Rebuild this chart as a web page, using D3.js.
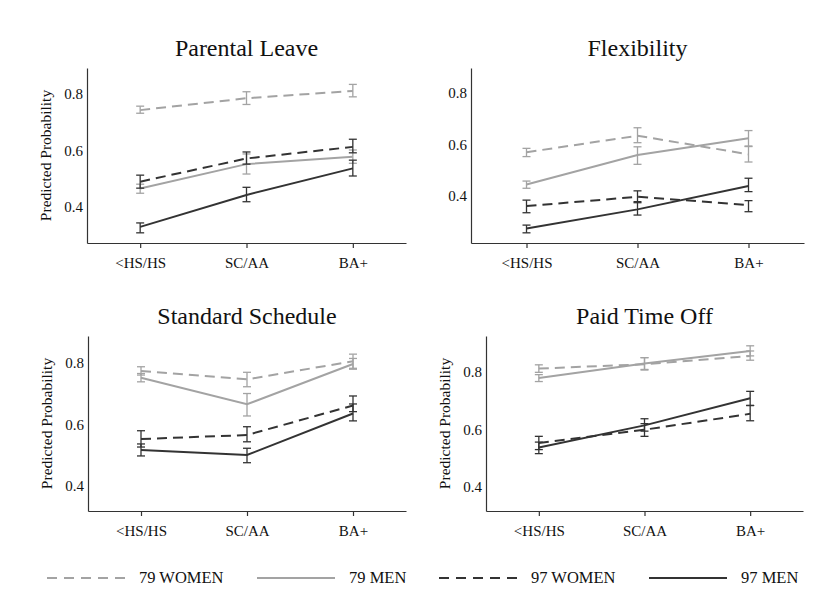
<!DOCTYPE html>
<html>
<head>
<meta charset="utf-8">
<script src="https://cdn.jsdelivr.net/npm/d3@7"></script>
<style>
  html, body { margin: 0; padding: 0; background: #fff; }
  svg { display: block; font-family: "Liberation Serif", "Times New Roman", serif; }
</style>
</head>
<body>
<svg id="chart" width="817" height="602"></svg>
<script>
// Education categories and the four cohort/sex series
const categories = ["<HS/HS", "SC/AA", "BA+"];
const seriesNames = ["79 WOMEN", "79 MEN", "97 WOMEN", "97 MEN"];
const panelTitles = ["Parental Leave", "Flexibility", "Standard Schedule", "Paid Time Off"];
const yTicks = [0.4, 0.6, 0.8];

// Predicted probabilities (rows follow seriesNames, columns follow categories)
const parentalLeaveEst = [[0.743, 0.785, 0.811], [0.466, 0.552, 0.578], [0.490, 0.572, 0.613], [0.330, 0.443, 0.537]];
const parentalLeaveLo  = [[0.732, 0.763, 0.790], [0.449, 0.517, 0.555], [0.467, 0.552, 0.592], [0.309, 0.419, 0.510]];
const parentalLeaveHi  = [[0.757, 0.808, 0.834], [0.481, 0.588, 0.602], [0.513, 0.595, 0.640], [0.344, 0.470, 0.566]];

const flexibilityEst = [[0.570, 0.634, 0.562], [0.445, 0.559, 0.624], [0.361, 0.397, 0.365], [0.274, 0.348, 0.439]];
const flexibilityLo  = [[0.553, 0.607, 0.532], [0.430, 0.523, 0.592], [0.335, 0.374, 0.339], [0.257, 0.326, 0.417]];
const flexibilityHi  = [[0.585, 0.665, 0.594], [0.458, 0.591, 0.654], [0.384, 0.420, 0.382], [0.287, 0.378, 0.469]];

const standardScheduleEst = [[0.774, 0.747, 0.806], [0.752, 0.666, 0.797], [0.553, 0.566, 0.662], [0.517, 0.501, 0.636]];
const standardScheduleLo  = [[0.761, 0.723, 0.783], [0.739, 0.628, 0.780], [0.527, 0.544, 0.642], [0.498, 0.476, 0.612]];
const standardScheduleHi  = [[0.788, 0.770, 0.829], [0.766, 0.701, 0.815], [0.580, 0.593, 0.693], [0.537, 0.523, 0.667]];

const paidTimeOffEst = [[0.811, 0.826, 0.855], [0.778, 0.829, 0.872], [0.553, 0.599, 0.654], [0.537, 0.614, 0.708]];
const paidTimeOffLo  = [[0.798, 0.806, 0.840], [0.766, 0.808, 0.855], [0.530, 0.576, 0.630], [0.516, 0.594, 0.683]];
const paidTimeOffHi  = [[0.824, 0.849, 0.872], [0.790, 0.849, 0.890], [0.576, 0.620, 0.683], [0.556, 0.637, 0.732]];

const panelData = [
  { est: parentalLeaveEst, lo: parentalLeaveLo, hi: parentalLeaveHi },
  { est: flexibilityEst, lo: flexibilityLo, hi: flexibilityHi },
  { est: standardScheduleEst, lo: standardScheduleLo, hi: standardScheduleHi },
  { est: paidTimeOffEst, lo: paidTimeOffLo, hi: paidTimeOffHi }
];

// Panel geometry and y ranges
const panelLayout = [
  { x0: 87,  x1: 406, y0: 68,  y1: 243, dom: [0.273, 0.892], yLabel: true },
  { x0: 471, x1: 804, y0: 68,  y1: 243, dom: [0.2175, 0.897], yLabel: false },
  { x0: 88,  x1: 406, y0: 336, y1: 511, dom: [0.319, 0.888], yLabel: true },
  { x0: 486, x1: 803, y0: 336, y1: 511, dom: [0.317, 0.924], yLabel: true }
];

// Line styles per series
const seriesColor = ["#a3a3a3", "#a3a3a3", "#333333", "#333333"];
const seriesDash  = ["10,6", null, "10,6", null];

const svg = d3.select("#chart");
const axisColor = "#333333";
const serif = "Liberation Serif, Times New Roman, serif";

panelLayout.forEach((p, i) => {
  const g = svg.append("g");
  const x = d3.scaleLinear().domain([0.5, 3.5]).range([p.x0, p.x1]);
  const y = d3.scaleLinear().domain(p.dom).range([p.y1, p.y0]);

  // Title
  g.append("text")
    .attr("x", (p.x0 + p.x1) / 2)
    .attr("y", p.y0 - 12)
    .attr("text-anchor", "middle")
    .attr("font-size", 24)
    .attr("font-family", serif)
    .attr("fill", "#111")
    .text(panelTitles[i]);

  // Y axis
  const yAxis = d3.axisLeft(y).tickValues(yTicks).tickFormat(d3.format(".1f")).tickSize(0).tickPadding(4);
  const ya = g.append("g").attr("transform", `translate(${p.x0},0)`).call(yAxis);
  ya.attr("font-family", serif);
  ya.select(".domain").attr("stroke", axisColor).attr("stroke-width", 1.2);
  ya.selectAll("text").attr("font-size", 15).attr("fill", "#111");

  // X axis
  const xAxis = d3.axisBottom(x).tickValues([1, 2, 3]).tickFormat(d => categories[d - 1]).tickSize(5).tickSizeOuter(0).tickPadding(9);
  const xa = g.append("g").attr("transform", `translate(0,${p.y1})`).call(xAxis);
  xa.attr("font-family", serif);
  xa.select(".domain").attr("stroke", axisColor).attr("stroke-width", 1.2);
  xa.selectAll(".tick line").attr("stroke", axisColor).attr("stroke-width", 1.2);
  xa.selectAll("text").attr("font-size", 15).attr("fill", "#111");

  // Y title
  if (p.yLabel) {
    g.append("text")
      .attr("transform", `translate(${p.x0 - 36},${(p.y0 + p.y1) / 2}) rotate(-90)`)
      .attr("text-anchor", "middle")
      .attr("font-size", 15.5)
      .attr("font-family", serif)
      .attr("fill", "#111")
      .text("Predicted Probability");
  }

  const d = panelData[i];
  const line = d3.line().x((v, j) => x(j + 1)).y(v => y(v));
  const cap = 4;

  seriesNames.forEach((name, s) => {
    // Error bars
    const eb = g.append("g").attr("stroke", seriesColor[s]).attr("stroke-width", 1.3).attr("fill", "none");
    categories.forEach((c, j) => {
      const cx = x(j + 1), ylo = y(d.lo[s][j]), yhi = y(d.hi[s][j]);
      eb.append("line").attr("x1", cx).attr("x2", cx).attr("y1", ylo).attr("y2", yhi);
      eb.append("line").attr("x1", cx - cap).attr("x2", cx + cap).attr("y1", ylo).attr("y2", ylo);
      eb.append("line").attr("x1", cx - cap).attr("x2", cx + cap).attr("y1", yhi).attr("y2", yhi);
    });
    // Estimate line
    g.append("path")
      .datum(d.est[s])
      .attr("d", line)
      .attr("fill", "none")
      .attr("stroke", seriesColor[s])
      .attr("stroke-width", 2)
      .attr("stroke-dasharray", seriesDash[s]);
  });
});

// Legend
const legendX = [47, 257, 439, 649];
const legend = svg.append("g");
seriesNames.forEach((name, s) => {
  const lx = legendX[s], ly = 578;
  legend.append("line")
    .attr("x1", lx).attr("x2", lx + 78).attr("y1", ly).attr("y2", ly)
    .attr("stroke", seriesColor[s]).attr("stroke-width", 2)
    .attr("stroke-dasharray", s % 2 === 0 ? "10,7" : null);
  legend.append("text")
    .attr("x", lx + 92).attr("y", ly + 5)
    .attr("font-size", 16.5)
    .attr("font-family", serif)
    .attr("fill", "#111")
    .text(name);
});
</script>
</body>
</html>
